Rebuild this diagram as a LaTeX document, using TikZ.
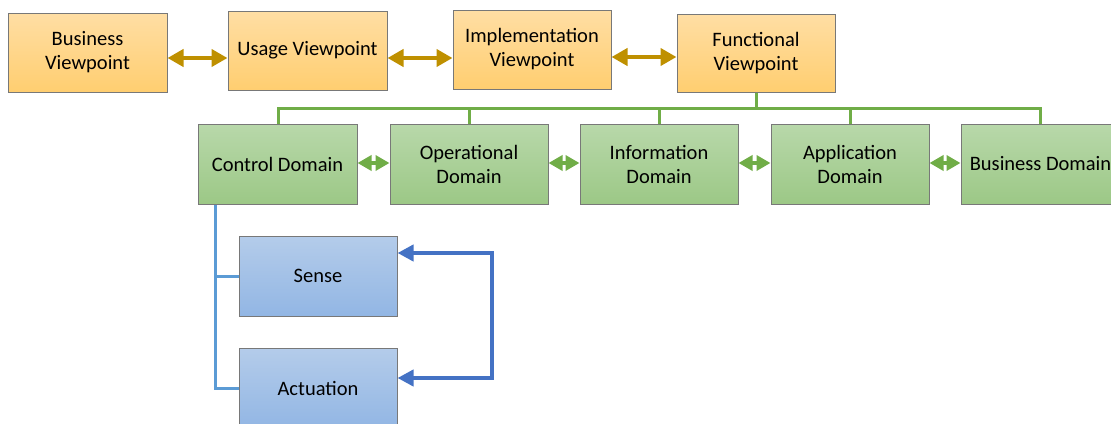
\documentclass[tikz,border=0pt]{standalone}
\usepackage{fontspec}
\setmainfont{Carlito}
\usetikzlibrary{arrows.meta}

\definecolor{boxline}{RGB}{120,120,120}
\definecolor{orangeTop}{RGB}{255,222,164}
\definecolor{orangeBot}{RGB}{255,206,112}
\definecolor{greenTop}{RGB}{184,216,170}
\definecolor{greenBot}{RGB}{156,200,134}
\definecolor{blueTop}{RGB}{180,204,234}
\definecolor{blueBot}{RGB}{146,182,228}
\definecolor{goldArrow}{RGB}{191,144,0}
\definecolor{greenLine}{RGB}{112,173,71}
\definecolor{treeBlue}{RGB}{91,155,213}
\definecolor{loopBlue}{RGB}{68,114,196}

\tikzset{
  basebox/.style={draw=boxline, line width=1pt, rectangle, align=center,
    minimum width=158pt, minimum height=79pt, inner sep=2pt,
    font=\fontsize{20.5}{24}\selectfont, text=black},
  viewbox/.style={basebox, top color=orangeTop, bottom color=orangeBot},
  domainbox/.style={basebox, top color=greenTop, bottom color=greenBot, minimum height=80pt},
  funcbox/.style={basebox, top color=blueTop, bottom color=blueBot, minimum height=80pt},
  goldlink/.style={draw=goldArrow, line width=4pt,
    {Triangle[length=16pt,width=17pt]}-{Triangle[length=16pt,width=17pt]}},
  greenlink/.style={draw=greenLine, line width=3.5pt,
    {Triangle[length=14pt,width=15pt]}-{Triangle[length=14pt,width=15pt]}},
  bus/.style={draw=greenLine, line width=3pt},
  tree/.style={draw=treeBlue, line width=3pt},
  loop/.style={draw=loopBlue, line width=4pt,
    {Triangle[length=16pt,width=16pt]}-{Triangle[length=16pt,width=16pt]}}
}

\begin{document}
\begin{tikzpicture}[x=1pt,y=-1pt]
\useasboundingbox (0,0) rectangle (1111,423);
\clip (0,0) rectangle (1111,423);

% viewpoints
\node[viewbox, minimum width=159pt] (bv) at (87.5,52.5) {Business\\Viewpoint};
\node[viewbox, minimum width=159pt] (uv) at (307.5,50.5) {Usage Viewpoint};
\node[viewbox] (iv) at (532,49.5) {Implementation\\Viewpoint};
\node[viewbox, minimum height=78pt] (fv) at (756,53) {Functional\\Viewpoint};

% domains
\node[domainbox, minimum width=159pt] (cd) at (277.5,164) {Control Domain};
\node[domainbox] (od) at (469,164) {Operational\\Domain};
\node[domainbox] (id) at (659,164) {Information\\Domain};
\node[domainbox] (ad) at (850,164) {Application\\Domain};
\node[domainbox, minimum width=159pt] (bd) at (1040.5,164) {Business Domain};

% control functions
\node[funcbox] (se) at (318,276) {Sense};
\node[funcbox] (ac) at (318,388) {Actuation};

% links between viewpoints
\coordinate (vrow) at (0,58);
\coordinate (vrow2) at (0,57);
\draw[goldlink] (bv.east |- vrow) -- (uv.west |- vrow);
\draw[goldlink] (uv.east |- vrow) -- (iv.west |- vrow);
\draw[goldlink] (iv.east |- vrow2) -- (fv.west |- vrow2);

% functional viewpoint to domains
\coordinate (busrow) at (0,108);
\coordinate (cdrop) at (278,0);
\draw[bus] (fv.south) -- (fv.south |- busrow);
\draw[bus] (cd.north -| cdrop) |- (bd.north |- busrow) -- (bd.north);
\draw[bus] (od.north) -- (od.north |- busrow);
\draw[bus] (id.north) -- (id.north |- busrow);
\draw[bus] (ad.north) -- (ad.north |- busrow);

% links between domains
\coordinate (drow) at (0,163);
\draw[greenlink] (cd.east |- drow) -- (od.west |- drow);
\draw[greenlink] (od.east |- drow) -- (id.west |- drow);
\draw[greenlink] (id.east |- drow) -- (ad.west |- drow);
\draw[greenlink] (ad.east |- drow) -- (bd.west |- drow);

% control domain tree
\coordinate (trunk) at (215,0);
\draw[tree] (cd.south -| trunk) |- (ac.west);
\draw[tree] (se.west -| trunk) -- (se.west);

% sense / actuation loop
\coordinate (loopT) at (492,253);
\coordinate (loopB) at (492,378);
\draw[loop] (se.east |- loopT) -- (loopT) -- (loopB) -- (ac.east |- loopB);
\end{tikzpicture}
\end{document}
